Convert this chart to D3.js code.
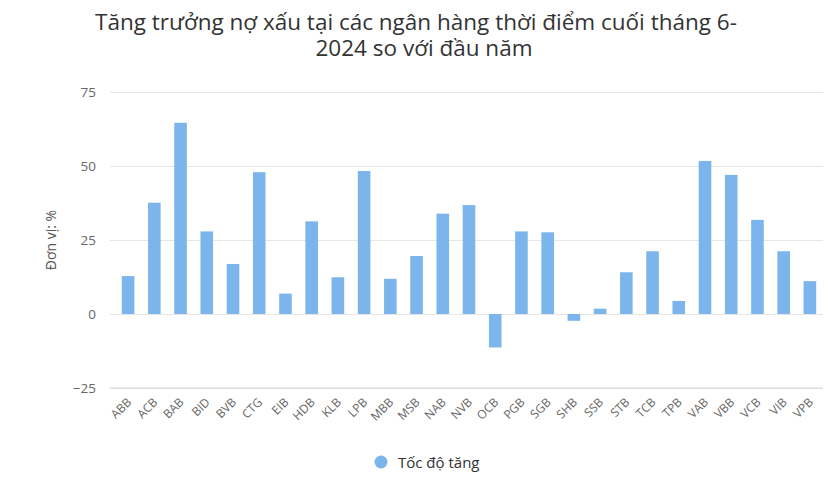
<!DOCTYPE html>
<html>
<head>
<meta charset="utf-8">
<script src="https://cdn.jsdelivr.net/npm/d3@7"></script>
<style>
  body { margin: 0; background: #fff; }
  text { font-family: "Open Sans", "Noto Sans", sans-serif; }
</style>
</head>
<body>
<svg id="chart"></svg>
<script>
let banks = ['ABB', 'ACB', 'BAB', 'BID', 'BVB', 'CTG', 'EIB', 'HDB', 'KLB', 'LPB', 'MBB', 'MSB', 'NAB', 'NVB',
  'OCB', 'PGB', 'SGB', 'SHB', 'SSB', 'STB', 'TCB', 'TPB', 'VAB', 'VBB', 'VCB', 'VIB', 'VPB']
let growth = [12.8, 37.6, 64.6, 27.9, 16.9, 47.9, 6.9, 31.3, 12.4, 48.3, 11.9, 19.6, 33.9, 36.8,
  -11.3, 27.9, 27.6, -2.3, 1.8, 14.1, 21.2, 4.4, 51.7, 47.0, 31.8, 21.2, 11.1]
let yTicks = [-25, 0, 25, 50, 75]
let titleLines = ['Tăng trưởng nợ xấu tại các ngân hàng thời điểm cuối tháng 6-', '2024 so với đầu năm']
let seriesName = 'Tốc độ tăng'
let yLabel = 'Đơn vị: %'

let width = 830
let height = 486
let plot = { left: 110, right: 823, top: 92, bottom: 388 }

let svg = d3.select('#chart')
  .attr('width', width)
  .attr('height', height)

let xScale = d3.scaleBand()
  .domain(banks)
  .range([plot.left + 5, plot.right])
  .paddingInner(0.52)
  .paddingOuter(0.26)

let yScale = d3.scaleLinear()
  .domain([-25, 75])
  .range([plot.bottom, plot.top])

// title (one text, two lines)
svg.append('text')
  .attr('text-anchor', 'middle')
  .attr('font-size', 22.5)
  .attr('fill', '#333333')
  .selectAll('tspan')
  .data(titleLines)
  .enter()
  .append('tspan')
  .attr('x', (d, i) => i == 0 ? 416 : 424)
  .attr('y', (d, i) => 30 + i * 25.5)
  .text(d => d)

// gridlines + y labels
let yAxis = d3.axisLeft(yScale)
  .tickValues(yTicks)
  .tickSize(-(plot.right - plot.left))
  .tickPadding(14)

svg.append('g')
  .attr('transform', 'translate(' + plot.left + ',0)')
  .call(yAxis)
  .call(g => g.select('.domain').remove())
  .call(g => g.selectAll('.tick line').attr('stroke', '#e6e6e6'))
  .call(g => g.selectAll('.tick text')
    .attr('font-size', 13.5)
    .attr('fill', '#666666')
    .style('font-family', '"Open Sans", sans-serif'))

// bottom axis line
svg.append('line')
  .attr('x1', plot.left)
  .attr('x2', plot.right)
  .attr('y1', plot.bottom)
  .attr('y2', plot.bottom)
  .attr('stroke', '#d8d8d8')

// bars
svg.append('g')
  .selectAll('rect')
  .data(banks)
  .enter()
  .append('rect')
  .attr('x', d => xScale(d))
  .attr('width', xScale.bandwidth())
  .attr('y', (d, i) => yScale(Math.max(0, growth[i])))
  .attr('height', (d, i) => Math.abs(yScale(growth[i]) - yScale(0)))
  .attr('fill', '#7cb5ec')

// x labels
let xAxis = d3.axisBottom(xScale).tickSize(0).tickPadding(0)
svg.append('g')
  .attr('transform', 'translate(0,' + plot.bottom + ')')
  .call(xAxis)
  .call(g => g.select('.domain').remove())
  .call(g => g.selectAll('.tick text')
    .attr('font-size', 12)
    .attr('fill', '#666666')
    .style('font-family', '"Open Sans", sans-serif')
    .attr('text-anchor', 'end')
    .attr('dy', null)
    .attr('transform', 'translate(4,15) rotate(-45)'))

// y axis title
svg.append('text')
  .attr('transform', 'translate(56,' + (yScale(25)) + ') rotate(-90)')
  .attr('text-anchor', 'middle')
  .attr('font-size', 14)
  .attr('fill', '#555555')
  .text(yLabel)

// legend
let legend = svg.append('g').attr('transform', 'translate(381,462)')
legend.append('circle')
  .attr('r', 6.5)
  .attr('fill', '#7cb5ec')
legend.append('text')
  .attr('x', 17)
  .attr('y', 5.5)
  .attr('font-size', 15)
  .attr('font-weight', 500)
  .attr('fill', '#333333')
  .text(seriesName)
</script>
</body>
</html>
